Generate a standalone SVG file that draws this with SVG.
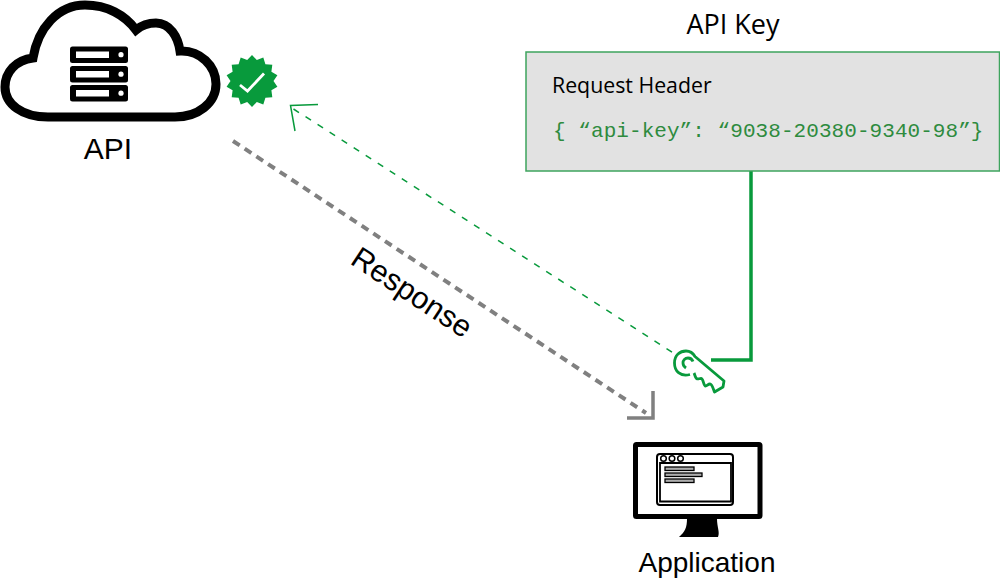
<svg xmlns="http://www.w3.org/2000/svg" width="1000" height="579" viewBox="0 0 1000 579">
<style>
.sans{font-family:"Liberation Sans",Arial,sans-serif;fill:#000}
.open{font-family:"Open Sans","Noto Sans",sans-serif;fill:#000}
.mono{font-family:"Liberation Mono","Courier New",monospace;fill:#2e8b3e;font-size:21px;letter-spacing:.06px}
.green{fill:none;stroke:#089a3c}
.grey{fill:none;stroke:#808080}
.bar{fill:#adadad;stroke:#000;stroke-width:1.3}
</style>
<defs>
<g id="srv"><rect x="0" y="0" width="58" height="16.5" rx="2.5" fill="#000"/><rect x="6" y="5" width="33" height="6.5" fill="#fff"/><circle cx="51" cy="8.2" r="2.6" fill="#fff"/></g>
</defs>
<rect width="1000" height="579" fill="#fff"/>
<g id="connectors">
<path class="green" stroke-width="1.5" stroke-dasharray="6.500 7.800" d="M293.500 109L675 354"/>
<path class="green" stroke-width="1.500" d="M318 104.500L290.500 105.500L295 131"/>
<path class="grey" stroke-width="4" stroke-dasharray="8 6" d="M233 141L646 413"/>
<path class="grey" stroke-width="3.500" d="M653 391V418H627"/>
<path class="green" stroke-width="3.500" d="M751 170V360H711"/>
</g>
<g id="api">
<path d="M48 117C22 117 5 104 5 87C5 72 16 60 33 58C38 28 58 5 85 5C107 5 125 15 136 30C142 25 150 23 156 23C170 23 178 37 180 51C200 50 216 66 216 84C216 103 198 117 175 117Z" fill="#fff" stroke="#000" stroke-width="9"/>
<use href="#srv" x="70" y="46.500"/><use href="#srv" x="70" y="66"/><use href="#srv" x="70" y="85"/>
<text class="sans" x="108" y="159" font-size="30" text-anchor="middle">API</text>
</g>
<g id="badge" transform="translate(252 81)">
<polygon transform="rotate(-90)" fill="#089a3c" points="26,0 21,4.800 23.400,11.300 16.800,13.400 16.200,20.300 9.300,19.400 5.800,25.400 0,21.500 -5.800,25.400 -9.300,19.400 -16.200,20.300 -16.800,13.400 -23.400,11.300 -21,4.800 -26,0 -21,-4.800 -23.400,-11.300 -16.800,-13.400 -16.200,-20.300 -9.300,-19.400 -5.800,-25.400 0,-21.500 5.800,-25.400 9.300,-19.400 16.200,-20.300 16.800,-13.400 23.400,-11.300 21,-4.800"/>
<path d="M-12 4L-4.500 10L12 -7.500" fill="none" stroke="#fff" stroke-width="2.800"/>
</g>
<g id="api-key-box">
<text class="open" x="733" y="34" font-size="27" text-anchor="middle">API Key</text>
<rect x="526" y="52" width="473.500" height="119" fill="#e2e2e2" stroke="#3ea45e" stroke-width="1.500"/>
<text class="open" x="552" y="93" font-size="21.300">Request Header</text>
<text class="mono" x="553" y="137">{ “api-key”: “9038-20380-9340-98”}</text>
</g>
<g id="key" fill="none" stroke="#089a3c" stroke-width="2.800" stroke-linejoin="round">
<path d="M690 374.500C680 377 674.500 371 674.500 363C674.500 355 680 351 686 351C690 351 693 353 695 356.500L724 381L723 387L714.500 392C713 388 712 384 710 384C708 384 707 386 705.500 386C703.500 386 703.500 378.500 701 378.500C699 378.500 698 379.500 696.500 378.500C695 377 695 375 694 373"/>
<path d="M693 361.500C692 359 690 358 688 358C685 358 683 360.500 683 363C683 365.500 684.500 367 686 368"/>
</g>
<g id="response"><text class="sans" transform="translate(349 263) rotate(33.500)" font-size="30.500">Response</text></g>
<g id="application">
<rect x="635.500" y="444.500" width="124.500" height="72" rx="1" fill="#fff" stroke="#000" stroke-width="5"/>
<path d="M687 519H717C717 527 720 532 718 537H679C685 532 687 527 687 519Z" fill="#000"/>
<rect x="657" y="454" width="76" height="51" rx="3" fill="#fff" stroke="#000" stroke-width="2"/>
<path d="M660 463H731V501.500H660Z" fill="#fff" stroke="#000" stroke-width="1.800"/>
<g fill="#fff" stroke="#000" stroke-width="1.500"><circle cx="663.500" cy="458.500" r="2.800"/><circle cx="672" cy="458.500" r="2.800"/><circle cx="680.500" cy="458.500" r="2.800"/></g>
<rect class="bar" x="665" y="467" width="29" height="3.500"/><rect class="bar" x="665" y="473" width="37" height="3.500"/><rect class="bar" x="665" y="479" width="29" height="3.500"/>
<text class="sans" x="707" y="572" font-size="28" text-anchor="middle">Application</text>
</g>
</svg>
